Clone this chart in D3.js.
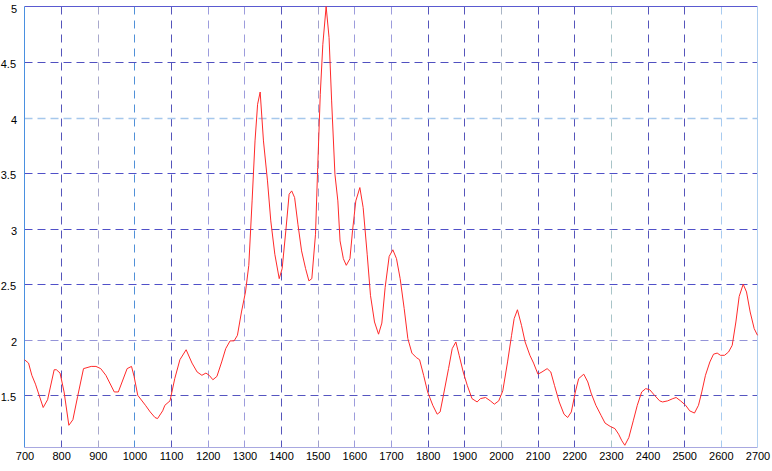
<!DOCTYPE html>
<html>
<head>
<meta charset="utf-8">
<script src="https://cdn.jsdelivr.net/npm/d3@7"></script>
<style>
  html, body { margin: 0; padding: 0; background: #ffffff; }
  svg { display: block; }
  .tick text { font-family: "Liberation Sans", Arial, sans-serif; font-size: 11px; fill: #000; }
</style>
</head>
<body>
<svg id="chart" width="772" height="471"></svg>
<script>
// ---- data ----
const wavelength = [700,711,720,730,751,763,781,787,797,808,821,832,845,861,882,895,908,922,945,956,980,992,999,1009,1030,1043,1056,1063,1077,1083,1097,1110,1124,1141,1157,1171,1184,1195,1204,1214,1225,1238,1249,1261,1272,1281,1292,1303,1312,1321,1329,1336,1343,1352,1363,1372,1383,1395,1403,1413,1422,1429,1437,1446,1456,1467,1476,1484,1494,1500,1507,1514,1523,1531,1538,1547,1555,1561,1570,1578,1588,1595,1604,1615,1624,1635,1644,1655,1666,1675,1684,1695,1705,1715,1725,1736,1746,1757,1769,1778,1789,1800,1814,1826,1834,1843,1857,1867,1877,1886,1897,1908,1921,1935,1944,1958,1971,1982,1994,2005,2018,2029,2036,2045,2056,2066,2079,2089,2101,2112,2126,2136,2146,2159,2172,2182,2192,2203,2212,2226,2237,2246,2259,2273,2284,2298,2311,2321,2330,2338,2349,2361,2372,2384,2395,2406,2419,2433,2441,2455,2469,2478,2490,2504,2515,2528,2539,2548,2558,2570,2580,2590,2599,2610,2621,2631,2641,2650,2661,2670,2680,2691,2700];
const intensity = [1.82,1.79,1.68,1.60,1.39,1.46,1.73,1.73,1.70,1.53,1.23,1.28,1.49,1.74,1.76,1.76,1.74,1.68,1.53,1.53,1.74,1.76,1.67,1.50,1.41,1.35,1.30,1.29,1.36,1.41,1.45,1.65,1.82,1.91,1.79,1.71,1.68,1.70,1.68,1.64,1.67,1.80,1.92,1.99,1.99,2.04,2.25,2.43,2.67,3.25,3.79,4.12,4.23,3.79,3.43,3.07,2.77,2.55,2.64,2.98,3.31,3.34,3.28,3.04,2.80,2.64,2.53,2.55,2.95,3.55,4.21,4.66,5.00,4.72,4.15,3.49,3.25,2.89,2.73,2.67,2.73,2.98,3.25,3.37,3.19,2.77,2.40,2.16,2.05,2.15,2.47,2.75,2.81,2.73,2.55,2.28,2.01,1.88,1.84,1.82,1.68,1.53,1.41,1.33,1.35,1.50,1.74,1.92,1.98,1.86,1.71,1.59,1.47,1.44,1.47,1.48,1.45,1.42,1.45,1.54,1.80,2.04,2.19,2.27,2.13,1.98,1.86,1.79,1.69,1.71,1.74,1.71,1.59,1.44,1.33,1.30,1.35,1.53,1.65,1.69,1.62,1.52,1.41,1.32,1.25,1.22,1.20,1.15,1.09,1.05,1.12,1.27,1.41,1.53,1.56,1.55,1.50,1.45,1.44,1.45,1.47,1.48,1.45,1.41,1.36,1.34,1.41,1.53,1.68,1.80,1.87,1.88,1.86,1.86,1.89,1.95,2.16,2.39,2.50,2.43,2.25,2.10,2.04];
const xTicks = d3.range(700, 2701, 100);
const yTicks = [1.5, 2, 2.5, 3, 3.5, 4, 4.5, 5];
const yTickLabels = ["1.5", "2", "2.5", "3", "3.5", "4", "4.5", "5"];

// ---- styles ----
const vGridColors = ["#5555bb","#a8a8cc","#5090d8","#5555bb","#9c9cdc","#9c9cdc","#5555bb","#a0a0cc","#9c9cdc","#9c9cdc","#5555bb","#5555bb","#a8b4c4","#5555bb","#5555bb","#a8c4c8","#5555bb","#5555bb","#a8cbf0"];
const hGridColors = {1.5:"#5555c0", 2:"#9494d8", 2.5:"#5050c8", 3:"#5050c8", 3.5:"#5050c8", 4:"#a6c8ec", 4.5:"#5050c0"};

const svg = d3.select("#chart");
const mLeft = 24.5, mRight = 757.5, mTop = 6.5, mBottom = 447.5;

const x = d3.scaleLinear().domain([700, 2700]).range([mLeft, mRight]);
const y = d3.scaleLinear().domain([1.03, 5]).range([mBottom, mTop]);

// grid
const g = svg.append("g");
g.selectAll("line.v").data(xTicks.filter(d => d > 700 && d < 2700)).enter()
  .append("line").attr("class", "v")
  .attr("x1", d => Math.round(x(d)) + 0.5).attr("x2", d => Math.round(x(d)) + 0.5)
  .attr("y1", mTop).attr("y2", mBottom)
  .attr("stroke", (d, i) => vGridColors[i % vGridColors.length])
  .attr("stroke-width", 1).attr("stroke-dasharray", "8,6");
g.selectAll("line.h").data(yTicks.filter(d => d < 5)).enter()
  .append("line").attr("class", "h")
  .attr("x1", mLeft).attr("x2", mRight)
  .attr("y1", d => Math.round(y(d)) + 0.5).attr("y2", d => Math.round(y(d)) + 0.5)
  .attr("stroke", d => hGridColors[d])
  .attr("stroke-width", d => d === 4 ? 1.5 : 1)
  .attr("stroke-dasharray", "8,5");

// frame
svg.append("line").attr("x1", mLeft).attr("x2", mRight).attr("y1", mTop).attr("y2", mTop).attr("stroke", "#5a5ad0");
svg.append("line").attr("x1", mLeft).attr("x2", mLeft).attr("y1", mTop).attr("y2", mBottom).attr("stroke", "#4a90e0");
svg.append("line").attr("x1", mLeft).attr("x2", mRight).attr("y1", mBottom).attr("y2", mBottom).attr("stroke", "#a8a8e0");
svg.append("line").attr("x1", mRight).attr("x2", mRight).attr("y1", mTop).attr("y2", mBottom).attr("stroke", "#b0d0f0");

// curve
const pts = wavelength.map((w, i) => [w, intensity[i]]);
svg.append("path").datum(pts)
  .attr("fill", "none").attr("stroke", "#ff2a2a").attr("stroke-width", 1)
  .attr("d", d3.line().x(d => x(d[0])).y(d => y(d[1])));

// axes (labels only)
const xAxis = svg.append("g").attr("transform", `translate(0,${mBottom})`)
  .call(d3.axisBottom(x).tickValues(xTicks).tickFormat(d3.format("d")).tickSize(0).tickPadding(5));
xAxis.select(".domain").remove();

const yAxis = svg.append("g").attr("transform", `translate(${mLeft},0)`)
  .call(d3.axisLeft(y).tickValues(yTicks).tickFormat((d, i) => yTickLabels[i]).tickSize(0).tickPadding(7));
yAxis.select(".domain").remove();
yAxis.selectAll(".tick text")
  .attr("dy", "0.5em")
  .attr("x", d => Number.isInteger(d) ? -7.5 : -8.5);
</script>
</body>
</html>
